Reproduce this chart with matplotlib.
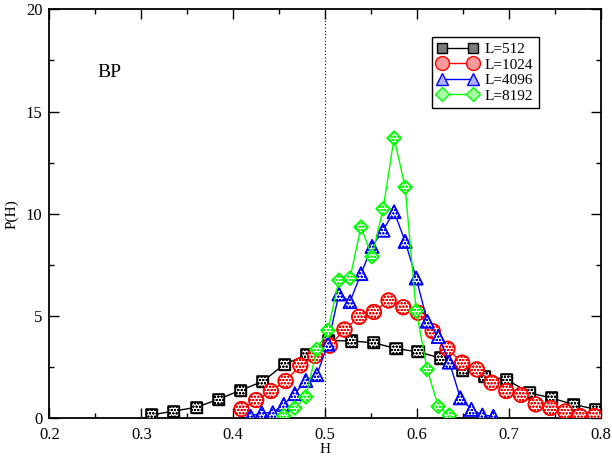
import matplotlib
matplotlib.use("Agg")
import matplotlib.pyplot as plt
from matplotlib.ticker import MultipleLocator
from matplotlib.lines import Line2D

plt.rcParams['font.family'] = ['Liberation Serif', 'DejaVu Serif']
plt.rcParams['hatch.linewidth'] = 0.6

# Distribution P(H) of the exponent H for several system sizes L
h_512 = [0.311, 0.335, 0.360, 0.384, 0.408, 0.432, 0.456, 0.480, 0.504, 0.529, 0.553,
         0.577, 0.601, 0.625, 0.649, 0.673, 0.697, 0.722, 0.746, 0.770, 0.794]
p_512 = [0.16, 0.35, 0.54, 0.93, 1.37, 1.80, 2.65, 3.10, 3.80, 3.78, 3.69,
         3.41, 3.25, 2.95, 2.34, 2.06, 1.90, 1.25, 0.99, 0.68, 0.44]

h_1024 = [0.409, 0.425, 0.441, 0.457, 0.473, 0.489, 0.505, 0.521, 0.537, 0.553, 0.569,
          0.585, 0.601, 0.617, 0.633, 0.649, 0.665, 0.681, 0.697, 0.713, 0.729,
          0.745, 0.761, 0.777, 0.793]
p_1024 = [0.45, 0.89, 1.33, 1.82, 2.59, 3.05, 3.55, 4.34, 4.96, 5.20, 5.76,
          5.43, 5.16, 4.26, 3.40, 2.72, 2.39, 1.74, 1.33, 1.14, 0.68,
          0.50, 0.33, 0.11, 0.11]

h_4096 = [0.419, 0.431, 0.443, 0.455, 0.467, 0.479, 0.491, 0.503, 0.515, 0.527, 0.539,
          0.551, 0.563, 0.575, 0.587, 0.599, 0.611, 0.623, 0.635, 0.647, 0.659,
          0.671, 0.683]
p_4096 = [0.10, 0.27, 0.27, 0.68, 1.20, 1.85, 2.13, 3.63, 6.08, 5.70, 7.07,
          8.40, 9.20, 10.10, 8.65, 6.86, 4.75, 4.00, 2.75, 1.00, 0.44,
          0.16, 0.10]

h_8192 = [0.455, 0.467, 0.479, 0.491, 0.503, 0.515, 0.527, 0.539, 0.551, 0.563,
          0.575, 0.587, 0.599, 0.611, 0.623, 0.635]
p_8192 = [0.12, 0.50, 1.05, 3.37, 4.30, 6.75, 6.85, 9.35, 7.90, 10.24,
          13.70, 11.30, 5.25, 2.39, 0.58, 0.15]

labels = ["L=512", "L=1024", "L=4096", "L=8192"]
colors = ["#000000", "#ff0000", "#0000ff", "#00ff00"]
markers = ["s", "o", "^", "D"]
msizes = [8.0, 10.5, 9.5, 7.0]
series = [(h_512, p_512), (h_1024, p_1024), (h_4096, p_4096), (h_8192, p_8192)]

fig = plt.figure(figsize=(6.12, 4.57), dpi=100)
ax = fig.add_axes([0.0806, 0.0847, 0.9014, 0.8950])

ax.axvline(0.5, color="black", linestyle=(0, (1, 2)), linewidth=0.8, zorder=1)

handles = []
for i, ((hx, py), col, mk, ms, lab) in enumerate(zip(series, colors, markers, msizes, labels)):
    z = 2 + 2 * i
    ax.plot(hx, py, color=col, linewidth=1.0, zorder=z)
    ax.scatter(hx, py, s=ms ** 2, marker=mk, facecolor="white", edgecolor=col,
               linewidths=1.0, hatch="ooooo", zorder=z + 1)
    ax.scatter(hx, py, s=ms ** 2, marker=mk, facecolor="none", edgecolor=col,
               linewidths=1.1, zorder=z + 1)
    handles.append(Line2D([], [], color=col, linewidth=1.0, marker=mk, markersize=ms * 0.95,
                          markerfacecolor=col, markeredgecolor=col, alpha=1.0))

ax.set_xlim(0.2, 0.8)
ax.set_ylim(0, 20)
ax.xaxis.set_major_locator(MultipleLocator(0.1))
ax.xaxis.set_minor_locator(MultipleLocator(0.05))
ax.yaxis.set_major_locator(MultipleLocator(5))
ax.yaxis.set_minor_locator(MultipleLocator(2.5))
ax.xaxis.set_major_formatter(plt.FuncFormatter(lambda v, p: f"{v:.1f}"))
ax.tick_params(which="both", direction="in", top=True, right=True, width=1.0,
               labelsize=12, pad=5)
ax.tick_params(axis="x", which="both", pad=6)
ax.tick_params(which="major", length=7)
ax.tick_params(which="minor", length=3.5)
for sp in ax.spines.values():
    sp.set_linewidth(1.3)

ax.set_xlabel("H", fontsize=11, labelpad=0)
ax.set_ylabel("P(H)", fontsize=11, labelpad=5)

ax.text(0.108, 0.845, "BP", transform=ax.transAxes, fontsize=14, ha="center", va="center")

# legend: pale stipple look approximated by light marker faces
light = ["#7a7a7a", "#ff9a9a", "#b0b0ff", "#a8ffa8"]
for hd, lc in zip(handles, light):
    hd.set_markerfacecolor(lc)
leg = ax.legend(handles, labels, loc="upper left", bbox_to_anchor=(0.694, 0.932),
                numpoints=2, fontsize=11, frameon=True, fancybox=False,
                edgecolor="black", framealpha=1, borderpad=0.35, labelspacing=0.12,
                handlelength=2.6, handletextpad=0.5, borderaxespad=0)
leg.get_frame().set_linewidth(1.0)
leg.set_zorder(20)

fig.savefig("out.png", dpi=100)
